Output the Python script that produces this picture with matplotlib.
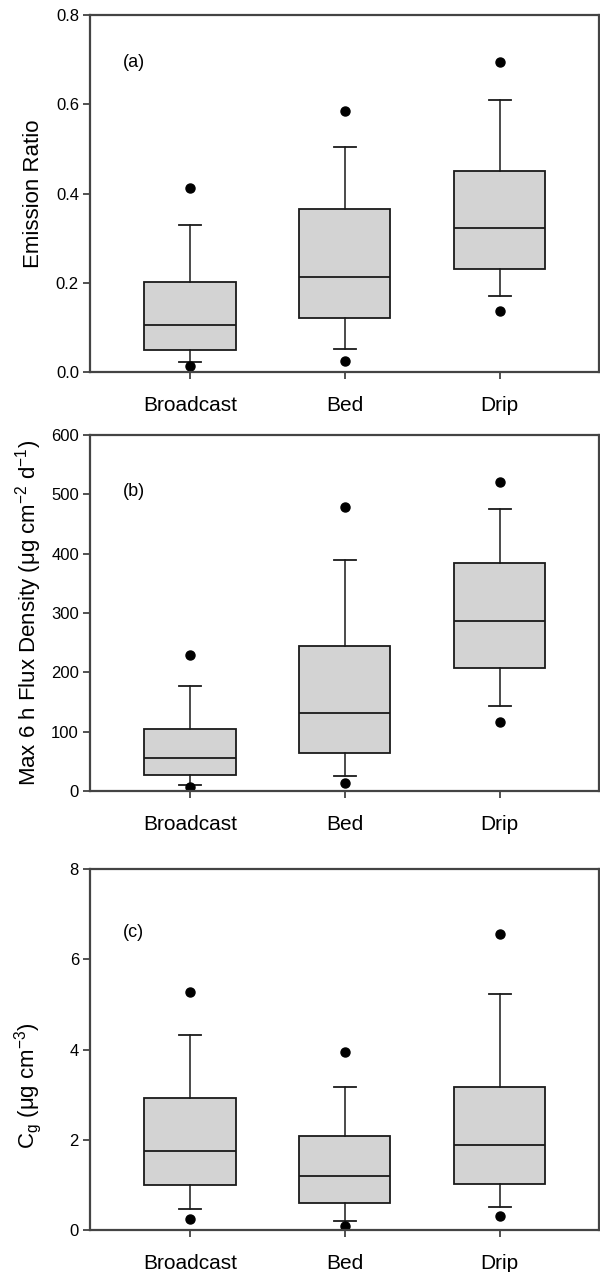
import matplotlib
matplotlib.use('Agg')
import matplotlib.pyplot as plt

plt.rcParams['font.family'] = ['Liberation Sans', 'DejaVu Sans']
plt.rcParams['mathtext.fontset'] = 'custom'
plt.rcParams['mathtext.rm'] = 'Liberation Sans'
plt.rcParams['mathtext.it'] = 'Liberation Sans'

methods = ['Broadcast', 'Bed', 'Drip']

# panel (a) emission ratio
a_q1 = [0.050, 0.122, 0.230]
a_med = [0.105, 0.214, 0.323]
a_q3 = [0.202, 0.365, 0.450]
a_lo = [0.022, 0.052, 0.170]
a_hi = [0.329, 0.504, 0.610]
a_fliers = [[0.013, 0.412], [0.025, 0.586], [0.136, 0.695]]

# panel (b) max 6 h flux density
b_q1 = [27, 64, 207]
b_med = [55, 131, 286]
b_q3 = [104, 245, 384]
b_lo = [11, 25, 144]
b_hi = [177, 390, 475]
b_fliers = [[6, 229], [14, 479], [116, 521]]

# panel (c) Cg
c_q1 = [0.99, 0.59, 1.02]
c_med = [1.75, 1.19, 1.88]
c_q3 = [2.92, 2.09, 3.18]
c_lo = [0.46, 0.21, 0.51]
c_hi = [4.32, 3.17, 5.24]
c_fliers = [[0.25, 5.28], [0.10, 3.95], [0.30, 6.56]]

panels = [
    (a_q1, a_med, a_q3, a_lo, a_hi, a_fliers, (0, 0.8), [0.0, 0.2, 0.4, 0.6, 0.8], '{:.1f}',
     'Emission Ratio', '(a)', 0.866, 0.5),
    (b_q1, b_med, b_q3, b_lo, b_hi, b_fliers, (0, 600), [0, 100, 200, 300, 400, 500, 600], '{:d}',
     r'Max 6 h Flux Density ($\mathrm{\mu}$g cm$^{-2}$ d$^{-1}$)', '(b)', 0.84, 0.5),
    (c_q1, c_med, c_q3, c_lo, c_hi, c_fliers, (0, 8), [0, 2, 4, 6, 8], '{:d}',
     r'C$_\mathrm{g}$ ($\mathrm{\mu}$g cm$^{-3}$)', '(c)', 0.825, 0.40),
]

boxes = [(0.15, 0.7075, 0.848, 0.2807),
         (0.15, 0.3781, 0.848, 0.2799),
         (0.15, 0.0330, 0.848, 0.2838)]

fig = plt.figure(figsize=(6, 12.72), dpi=100)

for rect, p in zip(boxes, panels):
    q1, med, q3, lo, hi, fl, ylim, yticks, fmt, ylabel, tag, tag_y, lab_y = p
    ax = fig.add_axes(rect)
    stats = []
    for i in range(3):
        stats.append({'med': med[i], 'q1': q1[i], 'q3': q3[i],
                      'whislo': lo[i], 'whishi': hi[i], 'fliers': fl[i]})
    ax.bxp(stats, positions=[1, 2, 3], widths=0.59, patch_artist=True,
           boxprops=dict(facecolor='#d3d3d3', edgecolor='#1a1a1a', linewidth=1.3),
           medianprops=dict(color='#1a1a1a', linewidth=1.3),
           whiskerprops=dict(color='#1a1a1a', linewidth=1.1),
           capprops=dict(color='#1a1a1a', linewidth=1.3),
           capwidths=0.14,
           flierprops=dict(marker='o', markerfacecolor='black', markeredgecolor='black',
                           markersize=6.5))
    ax.set_xlim(0.355, 3.64)
    ax.set_ylim(*ylim)
    ax.set_yticks(yticks)
    ax.set_yticklabels([fmt.format(t) for t in yticks], fontsize=12)
    ax.set_xticks([1, 2, 3])
    ax.set_xticklabels(methods, fontsize=15)
    ax.tick_params(axis='both', direction='out', length=5, width=1.2, color='#333333')
    ax.tick_params(axis='x', pad=12)
    ax.tick_params(axis='y', pad=3)
    for s in ax.spines.values():
        s.set_color('#444444')
        s.set_linewidth(1.6)
    ax.set_ylabel(ylabel, fontsize=16)
    ax.yaxis.set_label_coords(-0.09, lab_y)
    ax.text(0.086, tag_y, tag, transform=ax.transAxes, fontsize=13, ha='center', va='center')

plt.savefig('out.png', dpi=100)
